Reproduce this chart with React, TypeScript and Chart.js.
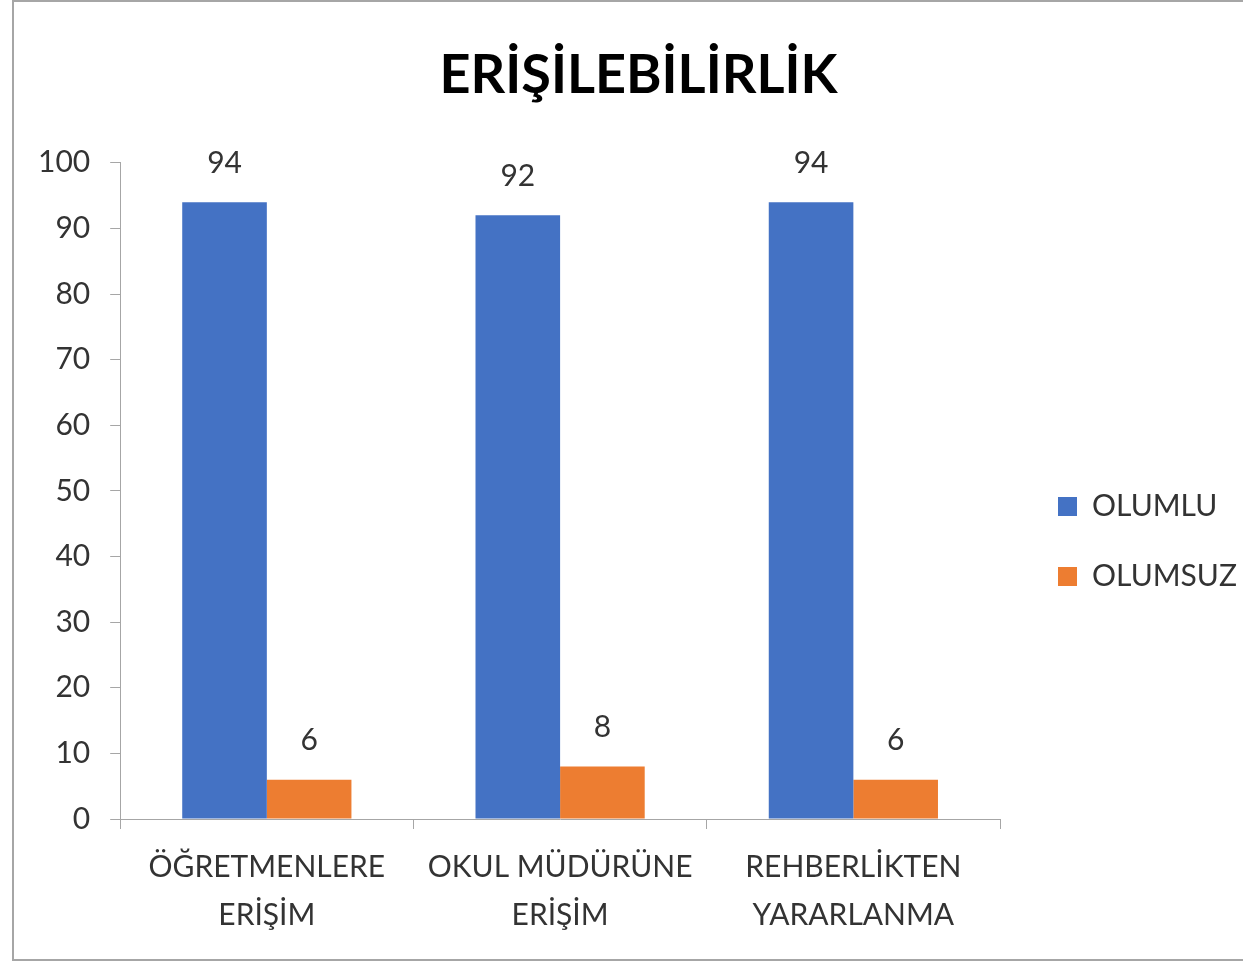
import React, { useEffect, useRef } from "react";
import { Chart, registerables } from "chart.js";

Chart.register(...registerables);

const categories: string[][] = [
  ["ÖĞRETMENLERE", "ERİŞİM"],
  ["OKUL MÜDÜRÜNE", "ERİŞİM"],
  ["REHBERLİKTEN", "YARARLANMA"],
];
const seriesNames = ["OLUMLU", "OLUMSUZ"];
const olumlu = [94, 92, 94];
const olumsuz = [6, 8, 6];
const yTicks = [0, 10, 20, 30, 40, 50, 60, 70, 80, 90, 100];
const titleText = "ERİŞİLEBİLİRLİK";

const FONT = "Lato, 'Open Sans', sans-serif";
const TEXT_COLOR = "#333333";
const AXIS_COLOR = "#a6a6a6";

const LEGEND_WIDTH = 259;
const LEGEND_DX = 18;
const LEGEND_DY = 64;

const valueLabels = {
  id: "valueLabels",
  afterDatasetsDraw(chart: any) {
    const ctx = chart.ctx;
    ctx.save();
    ctx.font = `30px ${FONT}`;
    ctx.fillStyle = TEXT_COLOR;
    ctx.textAlign = "center";
    ctx.textBaseline = "middle";
    chart.data.datasets.forEach((ds: any, di: number) => {
      const meta = chart.getDatasetMeta(di);
      meta.data.forEach((el: any, i: number) => {
        ctx.fillText(String(ds.data[i]), el.x, el.y - 39);
      });
    });
    ctx.restore();
  },
};

const legendTweak = {
  id: "legendTweak",
  beforeUpdate(chart: any) {
    const lg = chart.legend;
    if (lg && !lg.__patched) {
      const orig = lg.fit;
      lg.fit = function () {
        orig.call(this);
        this.width = LEGEND_WIDTH;
      };
      lg.__patched = true;
    }
  },
  afterLayout(chart: any) {
    const lg = chart.legend;
    if (lg) {
      lg.left += LEGEND_DX;
      lg.right += LEGEND_DX;
      lg.top += LEGEND_DY;
      lg.bottom += LEGEND_DY;
    }
  },
};

export default function App() {
  const ref = useRef<HTMLCanvasElement | null>(null);
  useEffect(() => {
    document.body.style.overflow = "hidden";
    if (!ref.current) return;
    const chart = new Chart(ref.current, {
      type: "bar",
      data: {
        labels: categories,
        datasets: [
          {
            label: seriesNames[0],
            data: olumlu,
            backgroundColor: "#4472C4",
            categoryPercentage: 0.577,
            barPercentage: 1,
          },
          {
            label: seriesNames[1],
            data: olumsuz,
            backgroundColor: "#ED7D31",
            categoryPercentage: 0.577,
            barPercentage: 1,
          },
        ],
      },
      options: {
        responsive: false,
        animation: false,
        layout: { padding: { left: 4, right: -16, top: 0, bottom: 6 } },
        scales: {
          x: {
            offset: true,
            grid: {
              offset: true,
              drawOnChartArea: false,
              drawTicks: true,
              tickLength: 10,
              color: AXIS_COLOR,
            },
            border: { display: true, color: AXIS_COLOR, width: 1 },
            ticks: {
              color: TEXT_COLOR,
              font: { family: FONT, size: 30, lineHeight: 1.6 },
              padding: 14,
              maxRotation: 0,
              autoSkip: false,
            },
          },
          y: {
            min: 0,
            max: 100,
            afterBuildTicks(scale: any) {
              scale.ticks = yTicks.map((v) => ({ value: v }));
            },
            grid: {
              drawOnChartArea: false,
              drawTicks: true,
              tickLength: 10,
              color: AXIS_COLOR,
            },
            border: { display: true, color: AXIS_COLOR, width: 1 },
            ticks: {
              color: TEXT_COLOR,
              font: { family: FONT, size: 30 },
              padding: 20,
            },
          },
        },
        plugins: {
          title: {
            display: true,
            text: titleText,
            color: "#000000",
            font: { family: FONT, size: 54, weight: "bold", lineHeight: 1.2 },
            padding: { top: 41, bottom: 55 },
          },
          legend: {
            display: true,
            position: "right",
            labels: {
              boxWidth: 19,
              boxHeight: 19,
              padding: 40,
              color: TEXT_COLOR,
              font: { family: FONT, size: 30 },
            },
          },
          tooltip: { enabled: false },
        },
      },
      plugins: [valueLabels, legendTweak],
    } as any);
    return () => chart.destroy();
  }, []);

  return (
    <div
      style={{
        position: "absolute",
        left: 12,
        top: 0,
        width: 1300,
        height: 961,
        boxSizing: "border-box",
        border: `2px solid ${AXIS_COLOR}`,
        background: "#ffffff",
      }}
    >
      <canvas
        ref={ref}
        width={1229}
        height={957}
        style={{ display: "block", width: 1229, height: 957 }}
      />
    </div>
  );
}
